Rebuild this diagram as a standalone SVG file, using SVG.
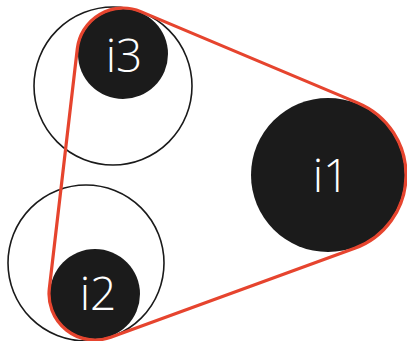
<svg xmlns="http://www.w3.org/2000/svg" width="407" height="341" viewBox="0 0 407 341">
<style>
.ring{fill:none;stroke:#1a1a1a;stroke-width:1.6}
.disc{fill:#1b1b1b}
.lbl{fill:#ffffff;font-family:"Open Sans","Lato","Liberation Sans",sans-serif;font-weight:300;font-size:46px;text-anchor:middle}
.belt{fill:none;stroke:#e6442e;stroke-width:3.2;stroke-linejoin:round}
</style>
<rect width="407" height="341" fill="#ffffff"/>
<g id="ring3"><circle class="ring" cx="113" cy="86" r="79"/></g>
<g id="ring2"><circle class="ring" cx="86" cy="263" r="78"/></g>
<g id="i1"><circle class="disc" cx="328" cy="175" r="77"/><text class="lbl" x="331" y="192">i1</text></g>
<g id="i2"><circle class="disc" cx="95" cy="294" r="45"/><text class="lbl" x="98" y="310">i2</text></g>
<g id="i3"><circle class="disc" cx="123" cy="54" r="45"/><text class="lbl" x="124" y="72">i3</text></g>
<g id="connectors">
<path class="belt" d="M140.85,11.6 L358.26,103.1 A78,78 0 0 1 354.7,248.3 L110.8,337.2 A46,46 0 0 1 49.3,288.7 L77.3,48.7 A46,46 0 0 1 140.85,11.6 Z"/>
</g>
</svg>
